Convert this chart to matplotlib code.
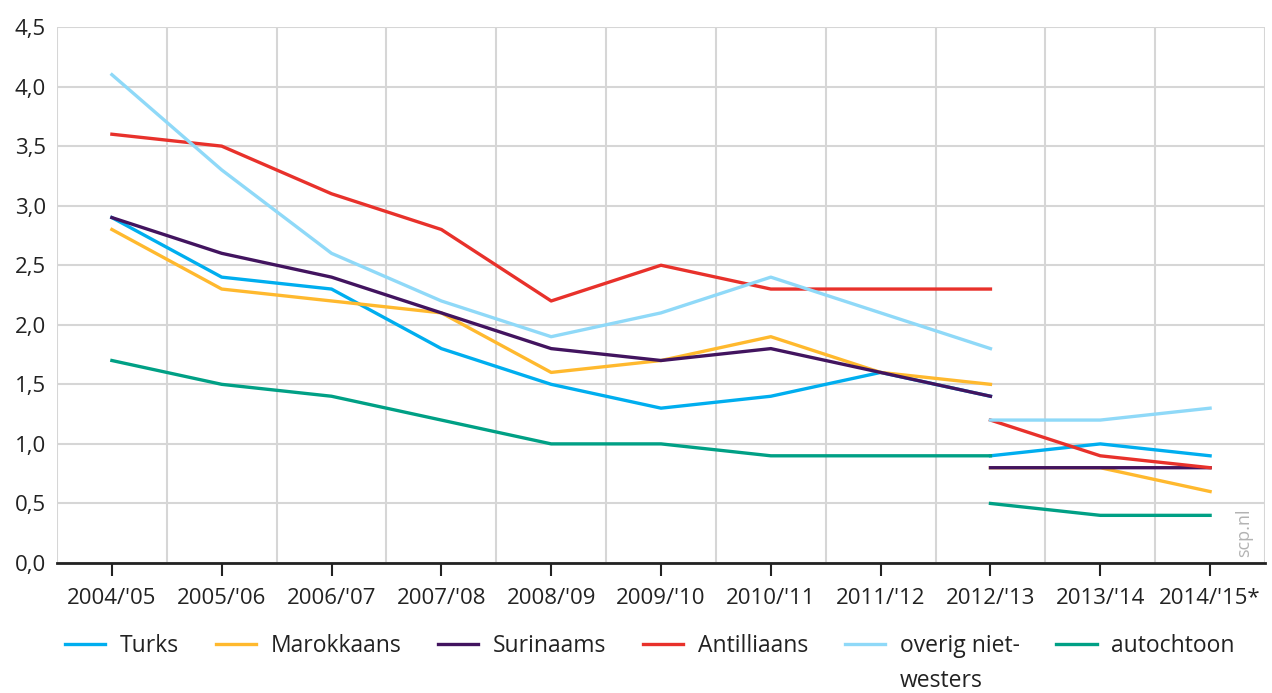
import numpy as np
import matplotlib.pyplot as plt
from matplotlib.ticker import FixedLocator

plt.rcParams['font.family'] = ['Open Sans', 'DejaVu Sans']

years = ["2004/'05", "2005/'06", "2006/'07", "2007/'08", "2008/'09", "2009/'10",
         "2010/'11", "2011/'12", "2012/'13", "2013/'14", "2014/'15*"]

# old measurement 2004/'05 - 2012/'13
turks_old = [2.9, 2.4, 2.3, 1.8, 1.5, 1.3, 1.4, 1.6, 1.4]
marok_old = [2.8, 2.3, 2.2, 2.1, 1.6, 1.7, 1.9, 1.6, 1.5]
surin_old = [2.9, 2.6, 2.4, 2.1, 1.8, 1.7, 1.8, 1.6, 1.4]
antil_old = [3.6, 3.5, 3.1, 2.8, 2.2, 2.5, 2.3, 2.3, 2.3]
overig_old = [4.1, 3.3, 2.6, 2.2, 1.9, 2.1, 2.4, 2.1, 1.8]
autoch_old = [1.7, 1.5, 1.4, 1.2, 1.0, 1.0, 0.9, 0.9, 0.9]

# new measurement 2012/'13 - 2014/'15
turks_new = [0.9, 1.0, 0.9]
marok_new = [0.8, 0.8, 0.6]
surin_new = [0.8, 0.8, 0.8]
antil_new = [1.2, 0.9, 0.8]
overig_new = [1.2, 1.2, 1.3]
autoch_new = [0.5, 0.4, 0.4]

series = [
    ('Turks', turks_old, turks_new, '#00aeef'),
    ('Marokkaans', marok_old, marok_new, '#ffb92e'),
    ('Surinaams', surin_old, surin_new, '#42145f'),
    ('Antilliaans', antil_old, antil_new, '#e8312b'),
    ('overig niet-', overig_old, overig_new, '#8fd9f8'),
    ('autochtoon', autoch_old, autoch_new, '#00a085'),
]

fig = plt.figure(figsize=(12.72, 6.93), dpi=100)
ax = fig.add_axes([0.0448, 0.1876, 0.9497, 0.7734])

x = np.arange(len(years))
for i, (name, old, new, col) in enumerate(series):
    ax.plot(x[:len(old)], old, color=col, lw=2.4, label=name, zorder=3 + i, snap=False)
    ax.plot(x[len(x) - len(new):], new, color=col, lw=2.4, zorder=3 + i, snap=False)

ax.set_xlim(-0.5, 10.5)
ax.set_ylim(0, 4.5)
ax.set_xticks(x)
ax.set_xticklabels(years)
ax.xaxis.set_minor_locator(FixedLocator(np.arange(-0.5, 11, 1.0)))
ax.set_yticks(np.arange(0, 4.51, 0.5))
ax.set_yticklabels([f'{v:.1f}'.replace('.', ',') for v in np.arange(0, 4.51, 0.5)])

ax.grid(True, which='minor', axis='x', color='#d6d6d6', lw=1.5)
ax.grid(True, which='major', axis='y', color='#d6d6d6', lw=1.5)
ax.set_axisbelow(True)

for s in ['top', 'right', 'left']:
    ax.spines[s].set_visible(False)
ax.spines['bottom'].set_color('#222222')
ax.spines['bottom'].set_linewidth(2)
ax.spines['bottom'].set_zorder(10)

ax.tick_params(axis='x', which='major', length=9, width=1.5, color='#222222',
               labelsize=16, labelcolor='#222222', pad=9)
ax.tick_params(axis='x', which='minor', length=0)
ax.tick_params(axis='y', length=0, labelsize=16, labelcolor='#222222', pad=8)

ax.text(0.983, 0.012, 'scp.nl', transform=ax.transAxes, rotation=90,
        ha='center', va='bottom', color='#b3b3b3', fontsize=13)

leg = fig.legend(loc='center left', bbox_to_anchor=(0.0347, 1 - 646 / 693), ncol=6,
                 frameon=False, fontsize=16.5, handlelength=1.75, handletextpad=0.65,
                 columnspacing=1.6, labelcolor='#222222')

# second line of the wrapped legend label
fig.canvas.draw()
renderer = fig.canvas.get_renderer()
bb = leg.get_texts()[4].get_window_extent(renderer).transformed(fig.transFigure.inverted())
fig.text(bb.x0, (bb.y0 + bb.y1) / 2 - 35 / 693, 'westers', ha='left', va='center',
         fontsize=16.5, color='#222222')

fig.savefig('out.png', dpi=100, facecolor='white')
